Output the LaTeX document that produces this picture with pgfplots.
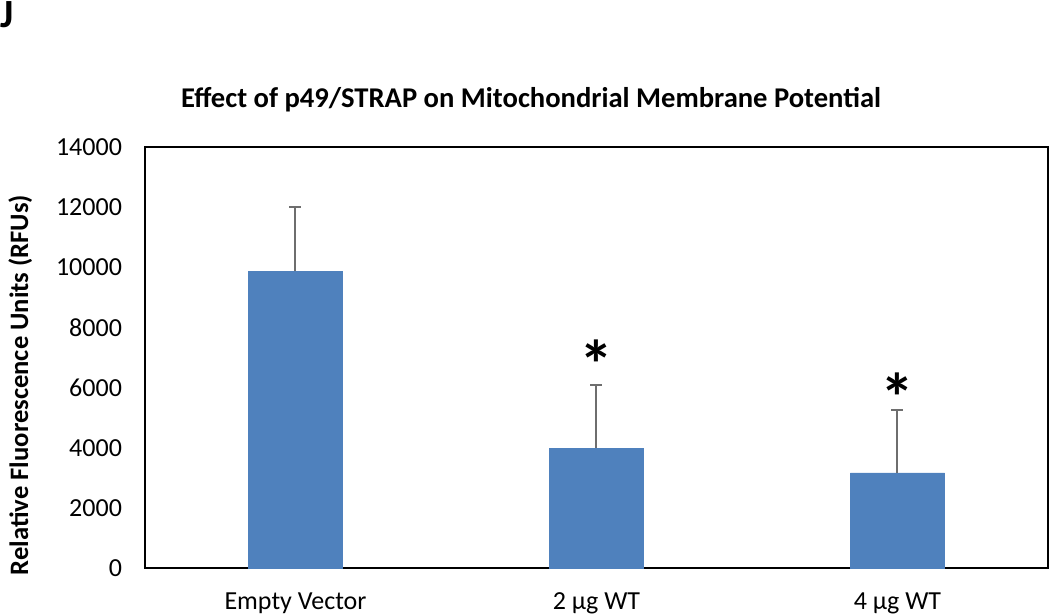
\documentclass[border=0pt]{standalone}
\usepackage{fontspec}
\setmainfont{Carlito}
\usepackage{pgfplots}
\pgfplotsset{compat=1.18}
\definecolor{barblue}{RGB}{79,129,189}
\definecolor{errgrey}{RGB}{110,110,110}
\begin{document}
\begin{tikzpicture}
\path[use as bounding box] (-72.5pt,-24pt) rectangle (452.5pt,284pt);
\begin{axis}[
  at={(0,0)}, anchor=south west,
  scale only axis,
  width=451.5pt, height=210.5pt,
  xmin=-0.5, xmax=2.5,
  ymin=0, ymax=14000,
  ytick={0,2000,...,14000},
  scaled y ticks=false,
  xtick={0,1,2},
  xticklabels={Empty Vector, 2 µg WT, 4 µg WT},
  major tick length=0pt,
  axis line style={line width=0.75pt, black},
  ticklabel style={font=\fontsize{13}{15}\selectfont, text=black},
  /pgf/number format/assume math mode=true,
  /pgf/number format/1000 sep={},
  yticklabel style={xshift=-8pt},
  xticklabel style={yshift=-9pt},
  clip=false,
]
\addplot[ybar, bar width=47pt, fill=barblue, draw=barblue,
  error bars/.cd, y dir=plus, y explicit,
  error bar style={line width=1pt, errgrey},
  error mark options={rotate=90, mark size=3pt, line width=1pt, errgrey}]
  coordinates {
    (0,9870) +- (0,2120)
    (1,3990) +- (0,2110)
    (2,3160) +- (0,2110)
  };
\node[font=\fontsize{34}{34}\selectfont\bfseries] at (axis cs:1,6780) {*};
\node[font=\fontsize{34}{34}\selectfont\bfseries] at (axis cs:2,5683) {*};
\node[font=\fontsize{14.3}{16}\selectfont\bfseries] at (rel axis cs:0.4275,1.112) {Effect of p49/STRAP on Mitochondrial Membrane Potential};
\node[font=\fontsize{13.3}{15}\selectfont\bfseries, rotate=90] at (rel axis cs:-0.138,0.435) {Relative Fluorescence Units (RFUs)};
\node[font=\fontsize{20}{22}\selectfont\bfseries, anchor=north west, inner sep=0pt] at (rel axis cs:-0.1606,1.347) {J};
\end{axis}
\end{tikzpicture}
\end{document}
